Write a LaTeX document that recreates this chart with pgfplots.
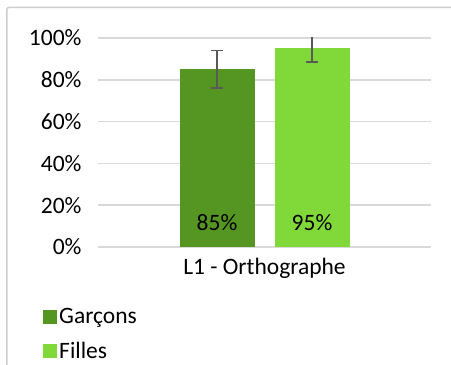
\documentclass[border=0pt]{standalone}
\usepackage{fontspec}
\setmainfont{Carlito}
\usepackage{pgfplots}
\pgfplotsset{compat=1.18}
\definecolor{garcons}{RGB}{85,150,35}
\definecolor{filles}{RGB}{128,216,57}
\definecolor{gridgray}{RGB}{217,217,217}
\definecolor{framegray}{RGB}{205,205,205}
\definecolor{errgray}{RGB}{89,89,89}
\newcommand{\chartfont}{\fontsize{23.5bp}{27bp}\selectfont}
\begin{document}
\begin{tikzpicture}
\path[use as bounding box] (0,0) rectangle (451bp,365bp);
% chart frame (only left and top edges show)
\draw[framegray, line width=1.5bp, rounded corners=2bp] (6.8bp,0) -- (6.8bp,357.5bp) -- (451bp,357.5bp);
\begin{axis}[
    at={(98bp,118bp)}, anchor=south west,
    scale only axis, width=333bp, height=209bp,
    xmin=-166.5, xmax=166.5, ymin=0, ymax=100,
    ybar, bar width=75bp, bar shift=0pt,
    axis line style={draw=none},
    major tick length=0pt,
    ymajorgrids, grid style={gridgray, line width=1.5bp},
    xtick={0}, xticklabels={L1 - Orthographe},
    ytick={0,20,...,100},
    yticklabel={\pgfmathprintnumber{\tick}\%},
    /pgf/number format/assume math mode=true,
    tick label style={font=\chartfont},
    yticklabel style={xshift=-13bp},
    xticklabel style={yshift=-8bp},
    legend style={at={(axis description cs:-0.174,-0.275)}, anchor=north west,
        draw=none, fill=none, font=\chartfont, row sep=13bp,
        nodes={inner sep=2bp}},
    legend cell align=left,
    legend image code/.code={\fill[#1, draw=none] (0bp,-7bp) rectangle (14bp,7bp);},
]
% Garçons
\addplot[fill=garcons, draw=none,
    error bars/.cd, y dir=both, y explicit,
    error bar style={errgray, line width=1.5bp},
    error mark options={errgray, rotate=90, mark size=6bp, line width=1.5bp}]
    coordinates {(-47.5,85) +- (0,9)};
\addlegendentry{Garçons}
% Filles
\addplot[fill=filles, draw=none,
    error bars/.cd, y dir=both, y explicit,
    error bar style={errgray, line width=1.5bp},
    error mark options={errgray, rotate=90, mark size=6bp, line width=1.5bp}]
    coordinates {(47.5,95) +- (0,6.5)};
\addlegendentry{Filles}
% value labels near the bar bottoms
\addplot[sharp plot, draw=none, mark=none, forget plot,
    nodes near coords, point meta=explicit symbolic,
    every node near coord/.append style={anchor=center, font=\chartfont, text=black}]
    coordinates {(-47.5,11.5) [85\%] (47.5,11.5) [95\%]};
\end{axis}
\end{tikzpicture}
\end{document}
